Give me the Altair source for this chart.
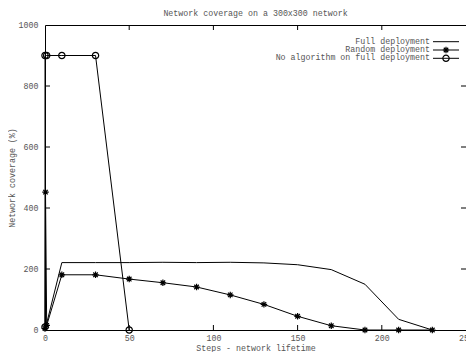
import altair as alt
import pandas as pd

# ---- data ----
full_x = [0, 10, 30, 50, 70, 90, 110, 130, 150, 170, 190, 210, 230]
full_y = [0, 221, 221, 221, 222, 221, 222, 220, 214, 198, 150, 35, 0]

random_x = [0, 0.3, 1, 10, 30, 50, 70, 90, 110, 130, 150, 170, 190, 210, 230]
random_y = [5, 452, 15, 181, 181, 167, 155, 141, 115, 84, 45, 14, 0, 0, 0]

noalg_x = [0, 0, 1, 10, 30, 50]
noalg_y = [10, 900, 900, 900, 900, 0]

series_names = ["Full deployment", "Random deployment", "No algorithm on full deployment"]
x_ticks = [0, 50, 100, 150, 200, 250]
y_ticks = [0, 200, 400, 600, 800, 1000]

FONT = "Liberation Mono"
TXT = "#555555"
FS = 8.3
W, H = 421, 305
STAR = "M-1,0L1,0M0,-1L0,1M-0.7,-0.7L0.7,0.7M-0.7,0.7L0.7,-0.7"


def sdf(xs, ys, name):
    return pd.DataFrame({"x": xs, "y": ys, "i": list(range(len(xs))), "series": name})


full_df = sdf(full_x, full_y, series_names[0])
rand_df = sdf(random_x, random_y, series_names[1])
noalg_df = sdf(noalg_x, noalg_y, series_names[2])

xscale = alt.Scale(domain=[0, 250], nice=False, zero=False)
yscale = alt.Scale(domain=[0, 1000], nice=False)
axis_common = dict(ticks=False, domain=False, grid=False, labelFont=FONT, labelFontSize=FS,
                   labelColor=TXT, titleFont=FONT, titleFontSize=FS, titleColor=TXT,
                   titleFontWeight="normal", format="d")
xaxis = alt.Axis(values=x_ticks, title="Steps - network lifetime", labelPadding=3,
                 titlePadding=2, labelFlush=False, **axis_common)
yaxis = alt.Axis(values=y_ticks, title="Network coverage (%)", labelPadding=7,
                 titlePadding=2, labelFlush=False, **axis_common)

X = alt.X("x:Q", scale=xscale, axis=xaxis)
Y = alt.Y("y:Q", scale=yscale, axis=yaxis)


def line_layer(df):
    return alt.Chart(df).mark_line(color="black", strokeWidth=1).encode(x=X, y=Y, order="i:Q")


layers = [
    line_layer(full_df),
    line_layer(rand_df),
    alt.Chart(rand_df).mark_point(shape=STAR, size=42, filled=False, color="black",
                                  strokeWidth=1.2, opacity=1).encode(x=X, y=Y),
    line_layer(noalg_df),
    alt.Chart(noalg_df).mark_point(shape="circle", size=40, filled=False, color="black",
                                   strokeWidth=1.2, opacity=1).encode(x=X, y=Y),
]

# inward ticks (gnuplot style), mirrored on all sides
xt = pd.DataFrame({"x": x_ticks[1:-1]})
yt = pd.DataFrame({"y": y_ticks[1:-1]})
TL = 5
layers += [
    alt.Chart(xt).mark_rule(color="black").encode(x=X, y=alt.value(H), y2=alt.value(H - TL)),
    alt.Chart(xt).mark_rule(color="black").encode(x=X, y=alt.value(0), y2=alt.value(TL)),
    alt.Chart(yt).mark_rule(color="black").encode(y=Y, x=alt.value(0), x2=alt.value(TL)),
    alt.Chart(yt).mark_rule(color="black").encode(y=Y, x=alt.value(W), x2=alt.value(W - TL)),
]

# gnuplot-style key (label left, sample right)
markers = [None, STAR, "circle"]
for k, name in enumerate(series_names):
    yy = 16.7 + 8.3 * k
    ldf = pd.DataFrame({"label": [name]})
    layers.append(alt.Chart(ldf).mark_text(align="right", baseline="middle", font=FONT,
                                           fontSize=FS, color=TXT)
                  .encode(x=alt.value(385), y=alt.value(yy), text="label:N"))
    layers.append(alt.Chart(ldf).mark_rule(color="black", strokeWidth=1)
                  .encode(x=alt.value(388), x2=alt.value(414), y=alt.value(yy)))
    if markers[k]:
        layers.append(alt.Chart(ldf).mark_point(shape=markers[k], size=40, filled=False,
                                                color="black", strokeWidth=1.2, opacity=1)
                      .encode(x=alt.value(401), y=alt.value(yy)))

chart = alt.layer(*layers).properties(
    width=W, height=H,
    title=alt.TitleParams("Network coverage on a 300x300 network", font=FONT, fontSize=FS,
                          color=TXT, fontWeight="normal", offset=3),
    autosize=alt.AutoSizeParams(type="none"),
    padding={"left": 37, "top": 17, "right": 0, "bottom": 22},
).configure_view(stroke="black", strokeWidth=1)

chart.save("out.html", embed_options={"renderer": "svg", "actions": False})
